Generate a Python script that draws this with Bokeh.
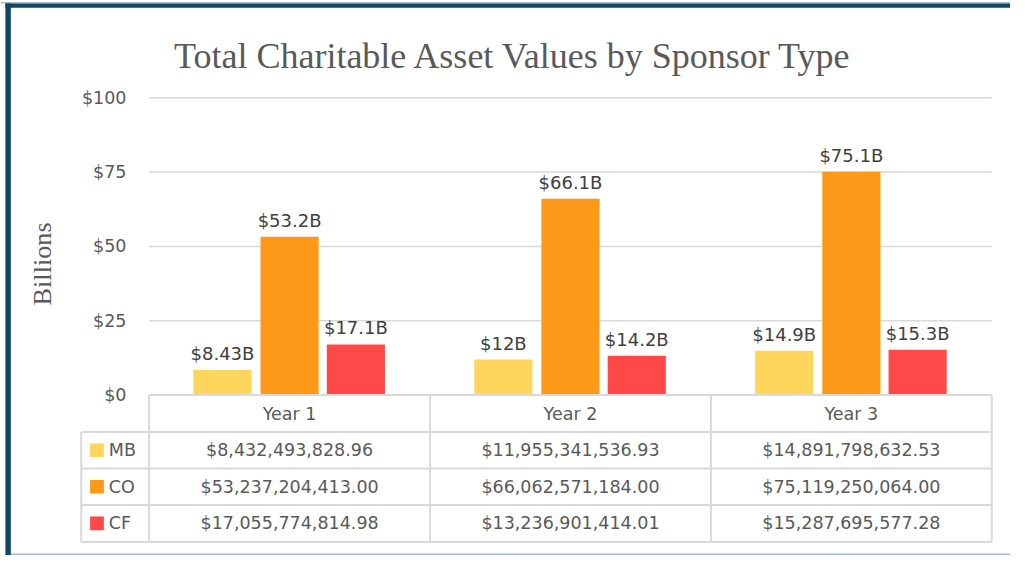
import math
from bokeh.plotting import figure
from bokeh.models import Range1d
from bokeh.core.properties import value
from bokeh.embed import file_html
from bokeh.resources import INLINE

# ---------------- data ----------------
chart_title = "Total Charitable Asset Values by Sponsor Type"
y_title = "Billions"
years = ["Year 1", "Year 2", "Year 3"]
series = ["MB", "CO", "CF"]
mb_values = [8432493828.96, 11955341536.93, 14891798632.53]
co_values = [53237204413.00, 66062571184.00, 75119250064.00]
cf_values = [17055774814.98, 13236901414.01, 15287695577.28]
mb_labels = ["$8.43B", "$12B", "$14.9B"]
co_labels = ["$53.2B", "$66.1B", "$75.1B"]
cf_labels = ["$17.1B", "$14.2B", "$15.3B"]
y_ticks = [0, 25, 50, 75, 100]
y_tick_labels = ["$0", "$25", "$50", "$75", "$100"]

# ---------------- styles / layout ----------------
colors = ["#FFD55C", "#FE9819", "#FF4848"]
offsets = [-0.239, 0.0, 0.236]
bar_w = 0.207
teal = "#0F4661"
grid_col = "#D9D9D9"
txt_gray = "#595959"
lbl_gray = "#404040"
SANS = "DejaVu Sans"
SERIF = "Liberation Serif"

W, H = 1010, 555                   # figure size (fits the window with margins)
RW, RH = 1026, 571                 # design canvas in which positions are given
S = min(W / RW, H / RH)
def fs(px):
    return "%.1fpx" % (px * S)

plot_left, plot_right = 151, 1007  # design px of category area
zero_px, hundred_px = 406, 100     # design px of $0 and $100
pxx = (plot_right - plot_left) / 3.0
pxy = (zero_px - hundred_px) / 100.0

x_rng = Range1d(-plot_left / pxx, 3 + (RW - plot_right) / pxx)
y_rng = Range1d(-(RH - zero_px) / pxy, 100 + hundred_px / pxy)

p = figure(width=W, height=H, x_range=x_rng, y_range=y_rng,
           x_axis_location=None, y_axis_location=None,
           toolbar_location=None, output_backend="svg",
           min_border=0, min_border_left=0, min_border_right=0,
           min_border_top=0, min_border_bottom=0)
p.title.visible = False
p.grid.visible = False
p.outline_line_color = None
p.background_fill_color = "white"
p.border_fill_color = "white"
p.extra_x_ranges = {"px": Range1d(0, RW)}
p.extra_y_ranges = {"px": Range1d(RH, 0)}

PX = dict(x_range_name="px", y_range_name="px")

# chart frame bands
p.quad(left=[0], right=[RW], top=[1.5], bottom=[3], fill_color="#A9BCCD", line_color=None, **PX)
p.quad(left=[5], right=[RW], top=[3], bottom=[7.5], fill_color=teal, line_color=None, **PX)
p.quad(left=[5], right=[10.5], top=[3], bottom=[RH], fill_color=teal, line_color=None, **PX)
p.quad(left=[10.5], right=[RW], top=[569], bottom=[570.5], fill_color="#A9BCCD", line_color=None, **PX)

# title
p.text(x=[521], y=[57], text=[chart_title], text_font=value(SERIF),
       text_font_size=fs(37), text_color=txt_gray, text_align="center",
       text_baseline="alphabetic", **PX)

# y axis title
p.text(x=[43], y=[271], text=[y_title], angle=math.pi / 2,
       text_font=value(SERIF), text_font_size=fs(27), text_color=txt_gray,
       text_align="center", text_baseline="middle", **PX)

# gridlines
grid_y = [t for t in y_ticks if t > 0]
p.segment(x0=[0] * len(grid_y), x1=[3] * len(grid_y), y0=grid_y, y1=grid_y,
          line_color=grid_col, line_width=1.5)

# y tick labels
p.text(x=[128] * len(y_ticks), y=y_ticks, text=y_tick_labels,
       text_font=value(SANS), text_font_size=fs(18), text_color=txt_gray,
       text_align="right", text_baseline="middle", x_range_name="px")

# bars + labels
all_values = [mb_values, co_values, cf_values]
all_labels = [mb_labels, co_labels, cf_labels]
for vals, labs, col, off in zip(all_values, all_labels, colors, offsets):
    xs = [i + 0.5 + off for i in range(len(years))]
    tops = [v / 1e9 for v in vals]
    p.vbar(x=xs, top=tops, bottom=0, width=bar_w, fill_color=col, line_color=None)
    p.text(x=xs, y=tops, text=labs, text_font=value(SANS), text_font_size=fs(18.5),
           text_color=lbl_gray, text_align="center", text_baseline="alphabetic",
           y_offset=-17 * S)

# ---------------- data table ----------------
row_edges = [406, 444, 481.5, 519, 557]
legend_left = 82
p.segment(x0=[plot_left], x1=[plot_right], y0=[row_edges[0]], y1=[row_edges[0]],
          line_color=grid_col, line_width=2, **PX)
p.segment(x0=[legend_left] * 4, x1=[plot_right] * 4, y0=row_edges[1:], y1=row_edges[1:],
          line_color=grid_col, line_width=2, **PX)
p.segment(x0=[0, 1, 2, 3], x1=[0, 1, 2, 3], y0=[row_edges[0]] * 4, y1=[row_edges[-1]] * 4,
          line_color=grid_col, line_width=2, y_range_name="px")
p.segment(x0=[legend_left], x1=[legend_left], y0=[row_edges[1]], y1=[row_edges[-1]],
          line_color=grid_col, line_width=2, **PX)

row_centers = [(row_edges[k] + row_edges[k + 1]) / 2 for k in range(4)]
p.text(x=[i + 0.5 for i in range(len(years))], y=[row_centers[0]] * len(years), text=years,
       text_font=value(SANS), text_font_size=fs(18), text_color=txt_gray,
       text_align="center", text_baseline="middle", y_range_name="px")
for k, (name, vals, col) in enumerate(zip(series, all_values, colors)):
    yc = row_centers[k + 1]
    p.quad(left=[91], right=[105], top=[yc - 7], bottom=[yc + 7], fill_color=col,
           line_color=None, **PX)
    p.text(x=[110], y=[yc], text=[name], text_font=value(SANS), text_font_size=fs(18),
           text_color=txt_gray, text_align="left", text_baseline="middle", **PX)
    p.text(x=[i + 0.5 for i in range(len(vals))], y=[yc] * len(vals),
           text=["${:,.2f}".format(v) for v in vals],
           text_font=value(SANS), text_font_size=fs(18), text_color=txt_gray,
           text_align="center", text_baseline="middle", y_range_name="px")

open("out.html", "w").write(file_html(p, INLINE))
